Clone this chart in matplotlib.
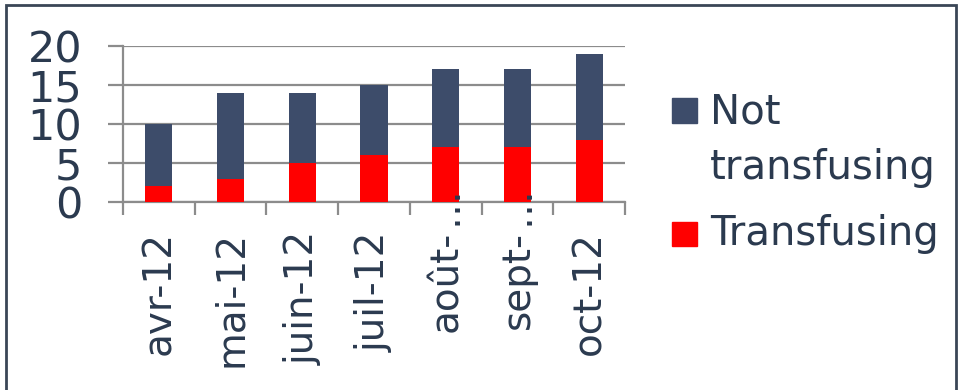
import matplotlib
matplotlib.use("Agg")
import matplotlib.pyplot as plt
from matplotlib.patches import Rectangle

months = ["avr-12", "mai-12", "juin-12", "juil-12", "août-…", "sept-…", "oct-12"]
transfusing = [2, 3, 5, 6, 7, 7, 8]
not_transfusing = [8, 11, 9, 9, 10, 10, 11]

navy = "#3d4c6a"
red = "#ff0000"
grid_col = "#8c8c8c"
text_col = "#2b3a4f"

plt.rcParams["font.family"] = ["DejaVu Sans"]

fig = plt.figure(figsize=(9.61, 3.9), dpi=100)
ax = fig.add_axes([123 / 961, 1 - 202 / 390, (625 - 123) / 961, (202 - 46) / 390])

x = list(range(len(months)))
ax.bar(x, transfusing, width=0.38, color=red, zorder=3)
ax.bar(x, not_transfusing, width=0.38, bottom=transfusing, color=navy, zorder=3)

ax.set_xlim(-0.5, len(months) - 0.5)
ax.set_ylim(0, 20)
ax.set_yticks([0, 5, 10, 15, 20])
ax.yaxis.grid(True, color=grid_col, linewidth=1.6, zorder=0)

# category labels in the middle, tick marks on the boundaries;
# the truncation dots are drawn up against the axis like in Excel
shown = [m[:-1] if m.endswith("…") else m for m in months]
ax.set_xticks(x)
ax.set_xticklabels(shown, rotation=90, fontsize=28, color=text_col)
ax.tick_params(axis="x", which="major", length=0, pad=21)
ax.set_xticks([i - 0.5 for i in range(len(months) + 1)], minor=True)
ax.tick_params(axis="x", which="minor", length=9.5, width=1.6, color=grid_col)
ax.tick_params(axis="y", length=10.5, width=1.6, color=grid_col, pad=19,
               labelsize=31, labelcolor=text_col)
for i, m in enumerate(months):
    if m.endswith("…"):
        ax.text(i, -0.02, "…", rotation=90, fontsize=28, color=text_col,
                ha="center", va="center", transform=ax.get_xaxis_transform(),
                zorder=5, clip_on=False)

for s in ["top", "right"]:
    ax.spines[s].set_visible(False)
for s in ["left", "bottom"]:
    ax.spines[s].set_color(grid_col)
    ax.spines[s].set_linewidth(1.6)

# legend drawn by hand so the square sits on the first line
fig.patches.append(Rectangle((672 / 961, 1 - 123 / 390), 25 / 961, 25 / 390,
                             transform=fig.transFigure, color=navy))
fig.text(710 / 961, 1 - 123 / 390, "Not", fontsize=29, color=text_col,
         va="baseline", ha="left")
fig.text(710 / 961, 1 - 179 / 390, "transfusing", fontsize=29, color=text_col,
         va="baseline", ha="left")
fig.patches.append(Rectangle((672 / 961, 1 - 246 / 390), 25 / 961, 24 / 390,
                             transform=fig.transFigure, color=red))
fig.text(710 / 961, 1 - 245 / 390, "Transfusing", fontsize=29, color=text_col,
         va="baseline", ha="left")

# outer frame
fig.patches.append(Rectangle((6 / 961, -0.05), 950 / 961, 1.05 - 5 / 390,
                             transform=fig.transFigure, fill=False,
                             edgecolor="#3a4656", linewidth=2))

fig.savefig("out.png", dpi=100)
